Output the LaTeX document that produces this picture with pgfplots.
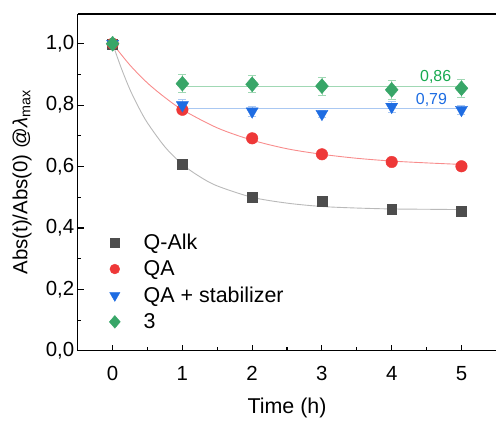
\documentclass[border=0pt]{standalone}
\usepackage{fontspec}
\setmainfont{Liberation Sans}
\usepackage{pgfplots}
\pgfplotsset{compat=1.18}
\definecolor{cgray}{RGB}{77,77,77}
\definecolor{cred}{RGB}{238,56,56}
\definecolor{cblue}{RGB}{30,108,226}
\definecolor{cgreen}{RGB}{56,166,104}
\definecolor{lgray}{RGB}{185,185,185}
\definecolor{lred}{RGB}{248,140,140}
\definecolor{lblue}{RGB}{170,200,242}
\definecolor{lgreen}{RGB}{160,216,180}
\definecolor{tgreen}{RGB}{24,170,80}
\definecolor{tblue}{RGB}{28,108,226}
\newcommand{\bigf}{\fontsize{20.5}{24}\selectfont}
\newcommand{\labf}{\fontsize{21.5}{25}\selectfont}
\pgfplotsset{mleg/.style={legend image code/.code={%
  \path[draw=none, fill=none] (0pt,0pt) -- (34pt,0pt);
  \draw[##1, only marks, mark size=0.85*\pgfplotmarksize] plot coordinates {(6pt,0pt)};}}}
\begin{document}
\begin{tikzpicture}
\begin{axis}[
  scale only axis,
  width=420pt, height=338pt,
  xmin=-0.5, xmax=5.5,
  ymin=0, ymax=1.097,
  axis y line*=left, axis x line*=bottom,
  axis line style={line width=1.3pt, -},
  xtick={0,1,2,3,4,5},
  minor x tick num=1,
  ytick={0,0.2,0.4,0.6,0.8,1.0},
  minor y tick num=1,
  tick align=inside,
  major tick length=6pt, minor tick length=3.5pt,
  tick style={line width=1.1pt, black},
  /pgf/number format/assume math mode=true,
  tick label style={font=\bigf},
  yticklabel style={/pgf/number format/.cd, fixed, fixed zerofill, precision=1, use comma},
  xticklabel style={yshift=-12pt, /pgf/number format/.cd, fixed, precision=0},
  xlabel={Time (h)},
  ylabel={Abs(t)/Abs(0) @\textit{λ}\textsubscript{max}},
  xlabel style={font=\labf, at={(axis description cs:0.5,0)}, anchor=north, yshift=-44pt},
  ylabel style={font=\bigf, at={(axis description cs:-0.133,0.5)}, anchor=center},
  legend style={at={(rel axis cs:0.0738,0.35)}, anchor=north west, draw=none, fill=none,
    font=\labf, row sep=7.7pt, inner sep=0pt, nodes={inner sep=1pt}},
  legend cell align=left,
]
% fitted curves
\addplot[lgray, line width=0.9pt, smooth, forget plot] coordinates {
  (0,1.0)(0.125,0.92)(0.25,0.850)(0.375,0.792)(0.5,0.742)(0.75,0.664)(1,0.607)
  (1.25,0.567)(1.5,0.537)(2,0.500)(2.5,0.481)(3,0.470)(3.5,0.465)(4,0.462)(4.5,0.461)(5,0.460)};
\addplot[lred, line width=0.9pt, smooth, forget plot] coordinates {
  (0,1.0)(0.25,0.930)(0.5,0.872)(0.75,0.825)(1,0.785)(1.5,0.726)(2,0.686)
  (2.5,0.658)(3,0.640)(3.5,0.627)(4,0.618)(4.5,0.612)(5,0.607)};
\addplot[lblue, line width=1.1pt, forget plot] coordinates {(1,0.79)(5,0.79)};
\addplot[lgreen, line width=1.1pt, forget plot] coordinates {(1,0.86)(5,0.86)};
% data
\addplot[only marks, mark=square*, mark size=5pt, color=cgray, mleg] coordinates {
  (0,1.0)(1,0.607)(2,0.500)(3,0.488)(4,0.460)(5,0.455)};
\addlegendentry{Q-Alk}
\addplot[only marks, mark=*, mark size=5.8pt, color=cred, mleg] coordinates {
  (0,1.0)(1,0.785)(2,0.692)(3,0.640)(4,0.615)(5,0.601)};
\addlegendentry{QA}
\addplot[only marks, mark=triangle*, mark size=7pt, color=cblue, mark options={rotate=180}, mleg,
  error bars/.cd, y dir=both, y explicit,
  error bar style={lblue, line width=0.8pt},
  error mark options={rotate=90, mark size=4pt, lblue, line width=0.8pt}] coordinates {
  (0,1.0) +- (0,0.0)
  (1,0.800) +- (0,0.018)
  (2,0.780) +- (0,0.015)
  (3,0.772) +- (0,0.012)
  (4,0.795) +- (0,0.018)
  (5,0.785) +- (0,0.015)};
\addlegendentry{QA + stabilizer}
\addplot[only marks, mark=diamond*, mark size=7.5pt, color=cgreen, mark options={xscale=1.15}, mleg,
  error bars/.cd, y dir=both, y explicit,
  error bar style={lgreen, line width=0.8pt},
  error mark options={rotate=90, mark size=4pt, lgreen, line width=0.8pt}] coordinates {
  (0,1.0) +- (0,0.0)
  (1,0.870) +- (0,0.029)
  (2,0.868) +- (0,0.028)
  (3,0.862) +- (0,0.030)
  (4,0.850) +- (0,0.030)
  (5,0.855) +- (0,0.030)};
\addlegendentry{3}
\node[font=\fontsize{16}{19}\selectfont, text=tgreen] at (axis cs:4.63,0.893) {0,86};
\node[font=\fontsize{16}{19}\selectfont, text=tblue] at (axis cs:4.57,0.818) {0,79};
\draw[line width=1.3pt] (rel axis cs:0,1) -- (rel axis cs:1,1);
\end{axis}
\useasboundingbox (-78pt,-66pt) rectangle (419pt,352pt);
\end{tikzpicture}
\end{document}
